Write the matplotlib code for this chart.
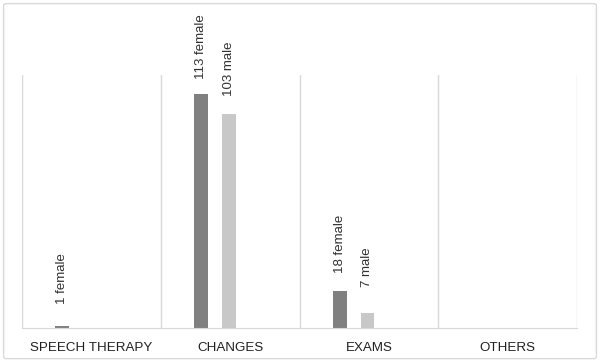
import matplotlib.pyplot as plt
import numpy as np
from matplotlib.patches import FancyBboxPatch

categories = ["SPEECH THERAPY", "CHANGES", "EXAMS", "OTHERS"]
female = [1, 113, 18, 0]
male = [0, 103, 7, 0]
female_labels = ["1 female", "113 female", "18 female", ""]
male_labels = ["", "103 male", "7 male", ""]

plt.rcParams['font.family'] = ['Liberation Sans', 'DejaVu Sans']

fig = plt.figure(figsize=(6, 3.63), dpi=100)
fig.patches.append(FancyBboxPatch((0.006, 0.012), 0.988, 0.978, boxstyle="round,pad=0,rounding_size=0.005",
                                  transform=fig.transFigure, fill=False, edgecolor='#d9d9d9', lw=1))
ax = fig.add_axes([22 / 600, 35 / 363, 555 / 600, 253 / 363])

x = np.arange(len(categories))
w = 0.1
ax.bar(x - 0.21, female, width=w, color='#808080')
ax.bar(x - 0.01, male, width=w, color='#c8c8c8')

# labels are centred a fixed distance above the bar top
for i in range(len(categories)):
    if female_labels[i]:
        ax.annotate(female_labels[i], (x[i] - 0.21, female[i]), xytext=(0, 34), textcoords='offset points',
                    rotation=90, ha='center', va='center', fontsize=9.5, color='#303030')
    if male_labels[i]:
        ax.annotate(male_labels[i], (x[i] - 0.01, male[i]), xytext=(0, 33), textcoords='offset points',
                    rotation=90, ha='center', va='center', fontsize=9.5, color='#303030')

ax.set_xlim(-0.5, 3.5)
ax.set_ylim(0, 122)
for b in np.arange(-0.5, 4.0, 1.0):
    ax.axvline(b, color='#d9d9d9', lw=1, zorder=0)
for s in ['top', 'left', 'right']:
    ax.spines[s].set_visible(False)
ax.spines['bottom'].set_color('#d9d9d9')
ax.set_yticks([])
ax.set_xticks(x)
ax.set_xticklabels(categories, fontsize=9.6, color='#202020')
ax.tick_params(axis='x', length=0, pad=10)

fig.savefig('out.png', dpi=100)
